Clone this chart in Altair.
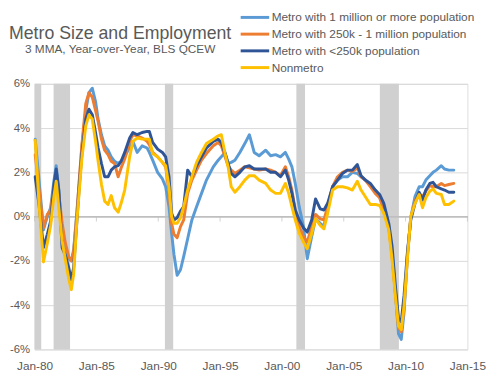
import altair as alt
import pandas as pd

years = [1980.05, 1980.37, 1980.72, 1981.03, 1981.30, 1981.56, 1981.75, 1981.96, 1982.23, 1982.49,
         1982.76, 1982.97, 1983.16, 1983.42, 1983.62, 1983.82, 1984.14, 1984.40, 1984.67, 1984.93,
         1985.14, 1985.41, 1985.67, 1985.94, 1986.20, 1986.47, 1986.76, 1987.00, 1987.29, 1987.69,
         1987.95, 1988.30, 1988.70, 1989.10, 1989.28, 1989.55, 1989.95, 1990.34, 1990.60, 1990.87,
         1991.08, 1991.27, 1991.53, 1991.80, 1992.06, 1992.38, 1992.72, 1993.10, 1993.50, 1993.90,
         1994.45, 1994.85, 1995.10, 1995.40, 1995.65, 1995.90, 1996.20, 1996.60, 1997.00, 1997.37,
         1997.76, 1998.16, 1998.69, 1999.09, 1999.49, 1999.88, 2000.28, 2000.55, 2000.81, 2001.08,
         2001.40, 2001.74, 2002.05, 2002.41, 2002.72, 2003.10, 2003.40, 2003.70, 2004.10, 2004.50,
         2004.90, 2005.30, 2005.70, 2006.10, 2006.40, 2006.75, 2007.15, 2007.55, 2007.90, 2008.24,
         2008.64, 2008.90, 2009.17, 2009.43, 2009.65, 2009.88, 2010.15, 2010.42, 2010.76, 2011.10,
         2011.37, 2011.64, 2011.96, 2012.22, 2012.49, 2012.89, 2013.15, 2013.50, 2013.90]

metro_large = [3.5, 1.6, -0.6, 0.0, 0.4, 1.6, 2.3, 1.2, -0.9, -1.6,
               -1.9, -2.0, -1.5, 0.2, 1.6, 3.1, 4.8, 5.6, 5.8, 5.2,
               4.4, 3.7, 3.2, 3.0, 2.7, 2.5, 2.4, 2.5, 2.75, 3.1,
               3.4, 2.9, 3.2, 3.1, 2.9, 2.55, 2.0, 1.7, 1.35, 0.45,
               -0.75, -1.7, -2.65, -2.4, -1.8, -1.0, -0.15, 0.45, 1.05, 1.65,
               2.25, 2.55, 2.7, 2.9, 2.4, 2.45, 2.55, 2.9, 3.3, 3.7,
               2.9, 2.75, 3.0, 2.75, 2.8, 2.7, 2.9, 2.6, 2.25, 1.5,
               0.45, -0.45, -1.9, -0.9, -0.1, -0.3, -0.45, 0.45, 1.35, 1.65,
               1.8, 1.8, 2.0, 1.95, 1.8, 1.65, 1.4, 1.2, 0.9, 0.45,
               -0.45, -1.6, -3.4, -5.3, -5.55, -4.3, -1.75, -0.05, 0.9, 1.35,
               1.35, 1.65, 1.85, 2.0, 2.1, 2.3, 2.15, 2.1, 2.1]

metro_mid = [2.8, 1.2, -0.5, 0.1, 0.3, 1.3, 1.75, 1.0, -0.3, -1.2,
             -1.8, -2.0, -1.6, 0.1, 1.7, 3.2, 5.1, 5.6, 5.4, 4.8,
             4.3, 3.5, 3.0, 2.8, 2.5, 2.4, 1.8, 2.2, 2.6, 3.4,
             3.7, 3.65, 3.55, 3.4, 3.25, 2.9, 2.7, 2.45, 2.25, 1.2,
             -0.3, -0.8, -0.95, -0.45, -0.15, 1.05, 1.65, 2.1, 2.55, 2.85,
             3.2, 3.35, 3.2, 2.7, 2.3, 2.1, 1.95, 2.1, 2.25, 2.2,
             2.15, 2.1, 2.15, 2.1, 2.0, 1.85, 2.25, 1.8, 1.2, 0.3,
             -0.45, -0.9, -1.15, -0.45, 0.1, -0.1, -0.15, 0.45, 1.35, 1.8,
             2.0, 2.1, 2.05, 2.2, 1.8, 1.65, 1.35, 1.05, 0.85, 0.3,
             -0.5, -1.75, -3.4, -5.0, -5.2, -4.1, -1.75, -0.05, 0.7, 1.05,
             0.9, 1.15, 1.4, 1.35, 1.35, 1.5, 1.4, 1.45, 1.5]

metro_small = [1.8, 0.5, -1.4, -0.8, -0.2, 1.4, 2.15, 1.2, -1.4, -1.75,
               -2.3, -2.85, -2.3, -0.2, 1.4, 2.8, 4.4, 4.85, 4.6, 3.8,
               3.1, 2.4, 1.8, 1.8, 2.1, 2.25, 2.3, 2.5, 2.9, 3.55,
               3.8, 3.7, 3.8, 3.85, 3.85, 3.35, 3.05, 2.9, 2.7, 1.8,
               0.15, -0.15, -0.05, 0.25, 0.45, 2.1, 1.8, 2.3, 2.7, 3.1,
               3.4, 3.5, 3.35, 2.85, 2.4, 1.95, 1.8, 2.0, 2.25, 2.3,
               2.15, 2.15, 2.15, 2.0, 2.0, 1.8, 2.1, 1.65, 1.05, 0.3,
               -0.15, -0.5, -0.7, -0.15, 0.8, 0.35, 0.3, 0.6, 1.35, 1.65,
               1.95, 2.1, 2.1, 2.35, 1.85, 1.65, 1.5, 1.2, 1.0, 0.6,
               -0.3, -1.3, -3.1, -4.6, -4.75, -3.55, -1.6, -0.15, 0.6, 1.1,
               0.75, 1.2, 1.5, 1.55, 1.35, 1.25, 1.2, 1.1, 1.1]

nonmetro = [3.45, 0.5, -2.05, -1.2, -0.4, 0.9, 1.6, 0.4, -1.1, -1.95,
            -2.8, -3.3, -2.6, -0.2, 1.2, 2.6, 4.1, 4.6, 4.4, 3.4,
            2.5, 1.45, 0.7, 0.55, 0.95, 0.4, 0.2, 0.6, 1.2, 2.7,
            3.4, 3.55, 3.5, 3.5, 3.5, 2.85, 2.7, 2.45, 2.3, 1.35,
            0.0, -0.3, -0.3, -0.05, 0.45, 1.2, 1.8, 2.45, 2.9, 3.3,
            3.5, 3.65, 3.7, 2.85, 2.25, 1.35, 1.1, 1.35, 1.65, 1.85,
            1.85, 1.65, 1.5, 1.2, 1.05, 1.05, 1.5, 1.05, 0.45, -0.15,
            -0.75, -1.15, -1.45, -0.75, -0.1, -0.4, -0.55, 0.15, 1.2, 1.35,
            1.35, 1.3, 1.2, 1.6, 1.2, 0.9, 0.55, 0.55, 0.5, 0.15,
            -0.6, -1.9, -3.55, -4.95, -5.1, -4.0, -1.9, 0.0, 0.6, 1.0,
            0.4, 0.85, 1.15, 1.25, 1.05, 1.0, 0.55, 0.55, 0.7]

series_names = ["Metro with 1 million or more population",
                "Metro with 250k - 1 million population",
                "Metro with <250k population",
                "Nonmetro"]
series_colors = ["#5B9BD5", "#ED7D31", "#2F5597", "#FFC000"]

rec_start = [1980.0, 1981.54, 1990.54, 2001.17, 2007.92]
rec_end = [1980.54, 1982.87, 1991.21, 2001.87, 2009.46]

tick_years = [1980, 1985, 1990, 1995, 2000, 2005, 2010, 2015]
y_ticks = [-6, -4, -2, 0, 2, 4, 6]

title_text = ["Metro Size and Employment"]
subtitle_text = ["3 MMA, Year-over-Year, BLS QCEW"]

rows = []
for name, vals in zip(series_names, [metro_large, metro_mid, metro_small, nonmetro]):
    for yr, v in zip(years, vals):
        rows.append({"year": yr, "value": v, "series": name})
df = pd.DataFrame(rows)
rec_df = pd.DataFrame({"start": rec_start, "end": rec_end})
tick_df = pd.DataFrame({"year": tick_years, "zero": [0] * len(tick_years)})

TXT = "#595959"
FONT = "Liberation Sans"

xscale = alt.Scale(domain=[1980, 2015], nice=False, zero=False)
yscale = alt.Scale(domain=[-6, 6], nice=False)

recessions = alt.Chart(rec_df).mark_rect(color="#D0D0D0").encode(
    x=alt.X("start:Q", scale=xscale,
            axis=alt.Axis(values=tick_years, title=None, grid=False, domain=False, ticks=False,
                          labelExpr="'Jan-' + substring(toString(datum.value), 2, 4)",
                          labelFlush=False, labelOverlap=False,
                          labelFontSize=12, labelColor=TXT, labelFont=FONT, labelPadding=11)),
    x2="end:Q",
    y=alt.value(0),
    y2=alt.value(270),
)

zero_line = alt.Chart(tick_df).mark_rule(color="#BFBFBF", strokeWidth=1).encode(
    y=alt.Y("zero:Q", scale=yscale),
    x=alt.value(0),
    x2=alt.value(440),
)

ticks = alt.Chart(tick_df).mark_tick(color="#BFBFBF", orient="vertical", size=5, thickness=1, yOffset=2.5).encode(
    x=alt.X("year:Q", scale=xscale),
    y=alt.Y("zero:Q", scale=yscale),
)

color_scale = alt.Scale(domain=series_names, range=series_colors)
legend = alt.Legend(orient="none", legendX=215, legendY=-76.5, title=None,
                    symbolType="M-2,0H2", symbolStrokeWidth=3, symbolSize=210,
                    labelFontSize=12, labelColor=TXT, labelFont=FONT, labelLimit=0,
                    labelOffset=8, rowPadding=2, padding=0)

def line_layer(name):
    return alt.Chart(df).transform_filter(alt.datum.series == name).mark_line(
        strokeWidth=3, strokeJoin="round", strokeCap="round").encode(
        x=alt.X("year:Q", scale=xscale),
        y=alt.Y("value:Q", scale=yscale,
                axis=alt.Axis(values=y_ticks, title=None, domain=False, ticks=False,
                              gridColor="#D9D9D9", labelExpr="datum.value + '%'",
                              labelFontSize=11.5, labelColor=TXT, labelFont=FONT, labelPadding=5)),
        color=alt.Color("series:N", scale=color_scale, legend=legend),
    )

lines = [line_layer(n) for n in series_names]

title_mark = alt.Chart(pd.DataFrame({"t": title_text})).mark_text(
    font=FONT, fontSize=18, color=TXT, align="center", baseline="alphabetic").encode(
    text="t:N", x=alt.value(87), y=alt.value(-46))

subtitle_mark = alt.Chart(pd.DataFrame({"t": subtitle_text})).mark_text(
    font=FONT, fontSize=12, color=TXT, align="center", baseline="alphabetic").encode(
    text="t:N", x=alt.value(87), y=alt.value(-31))

chart = alt.layer(recessions, zero_line, ticks, *lines, title_mark, subtitle_mark).properties(
    width=440, height=270,
    autosize=alt.AutoSizeParams(type="none"),
    padding={"left": 27, "top": 74, "right": 25, "bottom": 27},
).configure_view(stroke=None).configure(background="white")

chart.save("out.html", embed_options={"renderer": "svg", "actions": False})
